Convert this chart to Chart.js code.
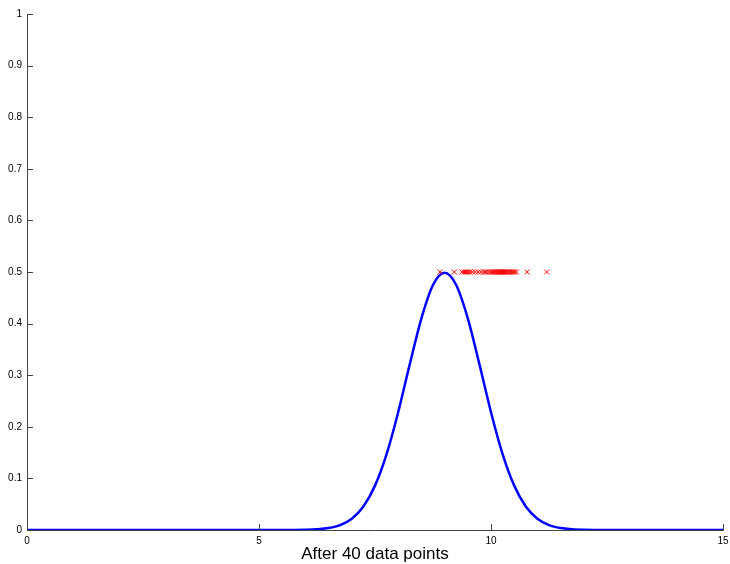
<!DOCTYPE html>
<html>
<head>
<meta charset="utf-8">
<script src="https://cdn.jsdelivr.net/npm/chart.js@4/dist/chart.umd.min.js"></script>
<style>
html,body{margin:0;padding:0;background:#fff;}
#wrap{width:730px;height:564px;position:relative;}
</style>
</head>
<body>
<div id="wrap"><canvas id="c" width="730" height="564"></canvas></div>
<script>
// Curve (x, density)
const curveX = [0, 5, 5.5, 5.75, 6, 6.25, 6.5, 6.75, 7, 7.25, 7.5, 7.75, 8, 8.25, 8.5, 8.75, 9, 9.25, 9.5, 9.75, 10, 10.25, 10.5, 10.75, 11, 11.25, 11.5, 11.75, 12, 12.5, 13, 15];
const curveY = [0, 0, 0.00003, 0.00013, 0.00044, 0.00136, 0.00378, 0.00955, 0.0219, 0.0456, 0.086, 0.1471, 0.2283, 0.3214, 0.4102, 0.4749, 0.4987, 0.4749, 0.4102, 0.3214, 0.2283, 0.1471, 0.086, 0.0456, 0.0219, 0.00955, 0.00378, 0.00136, 0.00044, 0.00003, 0, 0];
// Observed data points (x positions, drawn at y = 0.5)
const dataX = [8.90, 9.21, 9.37, 9.42, 9.46, 9.50, 9.55, 9.60, 9.66, 9.72, 9.78, 9.84, 9.88, 9.90, 9.95, 9.99, 10.02, 10.05, 10.08, 10.10, 10.12, 10.14, 10.16, 10.18, 10.20, 10.22, 10.24, 10.26, 10.28, 10.30, 10.33, 10.36, 10.39, 10.42, 10.45, 10.48, 10.51, 10.55, 10.78, 11.20];
const dataLevel = 0.5;
const xTicks = [0, 5, 10, 15];
const yTicks = [0, 0.1, 0.2, 0.3, 0.4, 0.5, 0.6, 0.7, 0.8, 0.9, 1];
const xTitle = 'After 40 data points';

const curvePts = curveX.map((x, i) => ({x: x, y: curveY[i]}));
const dataPts = dataX.map(x => ({x: x, y: dataLevel}));

const axisColor = '#444';

const innerTicks = {
  id: 'innerTicks',
  afterDraw(chart) {
    const ctx = chart.ctx;
    const xs = chart.scales.x, ys = chart.scales.y;
    const a = chart.chartArea;
    ctx.save();
    ctx.strokeStyle = axisColor;
    ctx.lineWidth = 1;
    ctx.beginPath();
    xTicks.forEach(v => {
      const px = Math.round(xs.getPixelForValue(v)) + 0.5;
      ctx.moveTo(px, a.bottom);
      ctx.lineTo(px, a.bottom - 6);
    });
    yTicks.forEach(v => {
      const py = Math.round(ys.getPixelForValue(v)) + 0.5;
      ctx.moveTo(a.left, py);
      ctx.lineTo(a.left + 6, py);
    });
    ctx.stroke();
    ctx.restore();
  }
};

new Chart(document.getElementById('c'), {
  type: 'scatter',
  data: {
    datasets: [
      {
        type: 'line',
        data: curvePts,
        borderColor: '#0000ff',
        borderWidth: 2.5,
        pointRadius: 0,
        cubicInterpolationMode: 'monotone',
        fill: false,
        order: 2
      },
      {
        data: dataPts,
        pointStyle: 'crossRot',
        pointRadius: 3.5,
        pointBorderColor: '#ff0000',
        pointBackgroundColor: '#ff0000',
        pointBorderWidth: 1,
        order: 1
      }
    ]
  },
  options: {
    responsive: false,
    animation: false,
    devicePixelRatio: 1,
    layout: {padding: {top: 14, right: 7, left: 0, bottom: 0}},
    plugins: {legend: {display: false}, tooltip: {enabled: false}},
    scales: {
      x: {
        type: 'linear',
        min: 0, max: 15,
        afterBuildTicks(s) { s.ticks = xTicks.map(v => ({value: v})); },
        afterFit(s) { s.height = 34; s.paddingLeft = 0; s.paddingRight = 0; },
        grid: {display: true, drawOnChartArea: false, drawTicks: false, color: axisColor},
        border: {display: true, color: axisColor, width: 1},
        ticks: {
          color: '#000', padding: 5,
          font: {family: 'Liberation Sans, Arial, sans-serif', size: 10},
          maxRotation: 0, autoSkip: false,
          callback: v => String(v)
        },
        title: {
          display: true, text: xTitle, color: '#000',
          font: {family: 'Liberation Sans, Arial, sans-serif', size: 17},
          padding: {top: 0, bottom: -1}
        }
      },
      y: {
        type: 'linear',
        min: 0, max: 1,
        afterBuildTicks(s) { s.ticks = yTicks.map(v => ({value: v})); },
        afterFit(s) { s.width = 27; s.paddingTop = 0; s.paddingBottom = 0; },
        grid: {display: true, drawOnChartArea: false, drawTicks: false, color: axisColor},
        border: {display: true, color: axisColor, width: 1},
        ticks: {
          color: '#000', padding: 5,
          font: {family: 'Liberation Sans, Arial, sans-serif', size: 10},
          autoSkip: false,
          callback: v => String(Math.round(v * 10) / 10)
        }
      }
    }
  },
  plugins: [innerTicks]
});
</script>
</body>
</html>
